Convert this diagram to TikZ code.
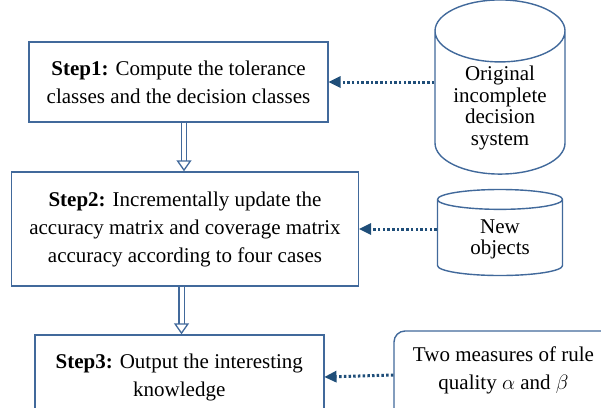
\documentclass[tikz,border=0pt]{standalone}
\usepackage{fontspec}
\setmainfont{Liberation Serif}
\usetikzlibrary{positioning,shapes.geometric,arrows.meta}
\definecolor{boxblue}{HTML}{41699B}
\definecolor{navy}{HTML}{1F4E79}

\begin{document}
\begin{tikzpicture}[x=1pt, y=-1pt,
  every node/.style={font=\fontsize{21}{28}\selectfont, align=center},
  stepbox/.style={draw=boxblue, line width=1.4pt, fill=white},
  datadb/.style={cylinder, shape border rotate=90, anchor=shape center, draw=boxblue,
    line width=1.4pt, fill=white, font=\fontsize{21}{21.5}\selectfont},
  infeed/.style={draw=navy, line width=3pt, dash pattern=on 2.5pt off 2.2pt,
    -{Triangle[length=12pt, width=12pt, line width=0pt]}},
  hollow/.style={draw=boxblue, line width=1.3pt, double=white, double distance=4pt,
    -{Triangle[open, length=11pt, width=15pt]}}]
\useasboundingbox (0,0) rectangle (601,407);
\clip (0,0) rectangle (601,407);

% Step boxes
\node[stepbox, minimum width=299pt, minimum height=80pt] (s1) at (178.5,82)
  {\textbf{Step1:} Compute the tolerance\\classes and the decision classes};
\node[stepbox, minimum width=347pt, minimum height=114pt] (s2) at (185,229)
  {\textbf{Step2:} Incrementally update the\\accuracy matrix and coverage matrix\\accuracy according to four cases};
\node[stepbox, minimum width=289pt, minimum height=84pt] (s3) at (179.3,377)
  {\textbf{Step3:} Output the interesting\\knowledge};

% Inputs
\node[datadb, minimum width=130pt, minimum height=151pt, aspect=0.62] (ods) at (500,87)
  {Original\\incomplete\\decision\\system};
\node[datadb, minimum width=125pt, minimum height=86pt, aspect=0.3] (newobj) at (500,232.5)
  {New\\objects};
\node[stepbox, rounded corners=11pt, minimum width=219pt, minimum height=88pt,
  text depth=14pt] (rq) at (503.5,375)
  {Two measures of rule\\quality $\alpha$ and $\beta$};

% Arrows
\draw[infeed] (ods.west |- s1.east) -- (s1.east);
\draw[infeed] (newobj.west |- s2.east) -- (s2.east);
\draw[infeed] (rq.west) -- (s3.east);
\draw[hollow] ([xshift=5.5pt]s1.south) -- ([xshift=5.5pt]s1.south |- s2.north);
\draw[hollow] ([xshift=-3.5pt]s2.south) -- ([xshift=-3.5pt]s2.south |- s3.north);
\end{tikzpicture}
\end{document}
